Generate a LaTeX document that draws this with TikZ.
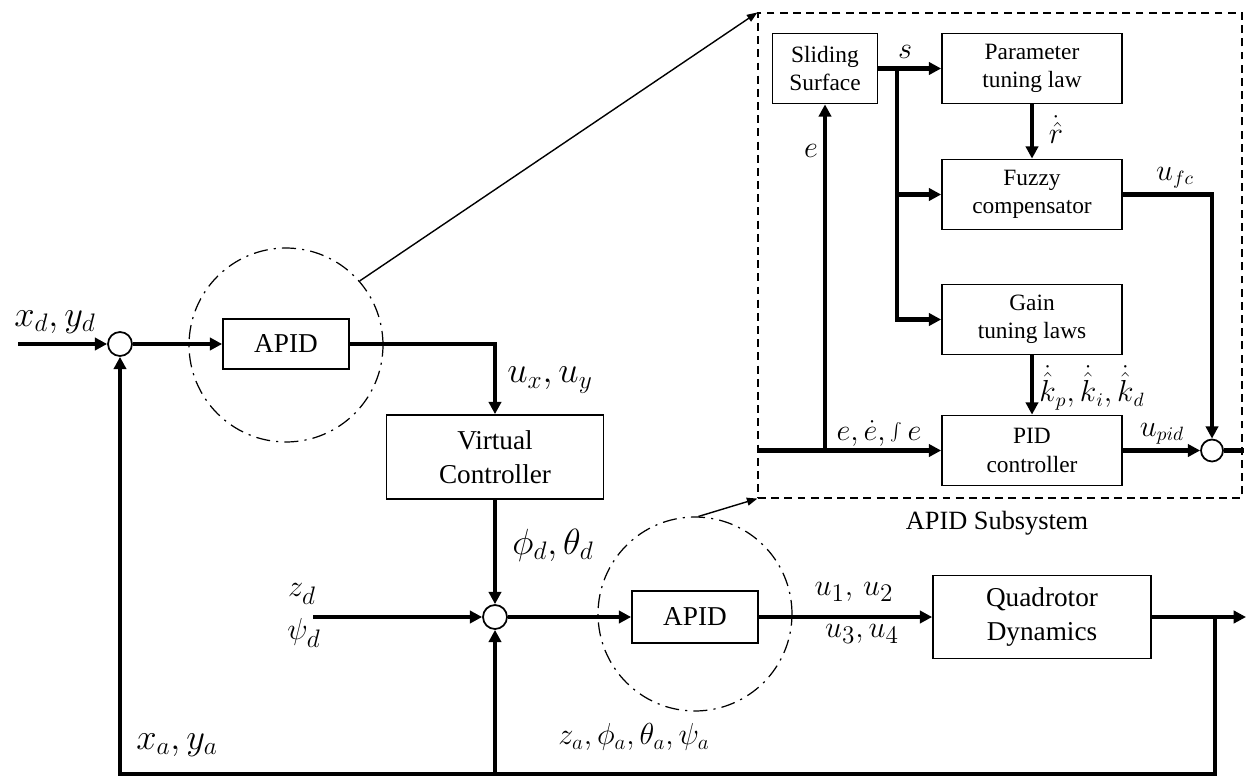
\documentclass[tikz,border=0pt]{standalone}
\usepackage{fontspec}
\setmainfont{Liberation Serif}
\usetikzlibrary{arrows.meta}
\begin{document}
\begin{tikzpicture}[x=0.02cm,y=-0.02cm,
    sig/.style={line width=2.4pt,-{Triangle[length=7pt,width=7pt]}},
    wire/.style={line width=2.4pt},
    thinarr/.style={line width=0.8pt,-{Triangle[length=6pt,width=4.5pt]}},
    blk/.style={draw,line width=1pt,align=center,font=\fontsize{15.5}{19}\selectfont},
    sblk/.style={draw,line width=1pt,align=center,minimum width=3.6cm,minimum height=1.4cm,font=\fontsize{13.3}{16}\selectfont},
    sumj/.style={draw,circle,line width=1pt,fill=white,minimum size=0.48cm,inner sep=0pt},
    zoomc/.style={draw,circle,line width=0.7pt,dash pattern=on 8pt off 3.5pt on 1.2pt off 3.5pt,minimum size=3.88cm},
    lbl/.style={font=\fontsize{21}{25}\selectfont},
    mlbl/.style={font=\fontsize{19}{23}\selectfont},
    slbl/.style={font=\fontsize{16}{19}\selectfont}]
  \useasboundingbox (0,0) rectangle (1247,777);
  \node[draw,line width=0.7pt,dash pattern=on 4.5pt off 3pt,minimum width=9.68cm,minimum height=9.7cm] (sub) at (1000,255.5) {};
  \node[zoomc] (ell1) at (286,345) {};
  \node[zoomc] (ell2) at (695,614) {};
  \node[sumj] (sum1) at (120,344) {};
  \node[sumj] (sum2) at (495,617) {};
  \node[blk,minimum width=2.52cm,minimum height=1cm] (apid1) at (286,344) {APID};
  \node[blk,minimum width=4.34cm,minimum height=1.68cm] (vc) at (495,457) {Virtual\\Controller};
  \node[blk,minimum width=2.52cm,minimum height=1.04cm] (apid2) at (695,617) {APID};
  \node[blk,minimum width=4.36cm,minimum height=1.66cm] (quad) at (1042,617) {Quadrotor\\Dynamics};
  \coordinate (in1) at (18,344);
  \coordinate (in2) at (313,617);
  \coordinate (tap) at (1215,617);
  \coordinate (out) at (1246,617);
  \coordinate (fb) at (120,774);
  \coordinate (fb2) at (495,774);
  \draw[sig] (in1) -- (sum1);
  \draw[sig] (sum1) -- (apid1);
  \draw[sig] (apid1) -| (vc);
  \draw[sig] (vc) -- (sum2);
  \draw[sig] (in2) -- (sum2);
  \draw[sig] (sum2) -- (apid2);
  \draw[sig] (apid2) -- (quad);
  \draw[sig] (quad) -- (out);
  \draw[sig] (tap) |- (fb) -- (sum1);
  \draw[sig] (fb2) -- (sum2);
  \draw[thinarr] (ell1.41) -- (sub.north west);
  \draw[thinarr] (ell2.88) -- (sub.south west);
  \node[lbl] (xdyd) at (55,322) {$x_d,y_d$};
  \node[lbl] (uxuy) at (550,380) {$u_x,u_y$};
  \node[lbl] (phth) at (553,545) {$\phi_d,\theta_d$};
  \node[mlbl] (zd) at (302,594) {$z_d$};
  \node[mlbl] (psid) at (304,633) {$\psi_d$};
  \node[mlbl] (u12) at (854,592) {$u_1,\,u_2$};
  \node[mlbl] (u34) at (862,634) {$u_3,u_4$};
  \node[font=\fontsize{18}{22}\selectfont] (zaetc) at (634,737) {$z_a,\phi_a,\theta_a,\psi_a$};
  \node[lbl] (xaya) at (177,745) {$x_a,y_a$};
  \node[font=\fontsize{15}{18}\selectfont] (subname) at (997,523) {APID Subsystem};
  \node[sblk,minimum width=2.1cm] (slide) at (825,68.5) {Sliding\\Surface};
  \node[sblk] (param) at (1032,68.5) {Parameter\\tuning law};
  \node[sblk] (fuzzy) at (1032,194.5) {Fuzzy\\compensator};
  \node[sblk] (gain) at (1032,319.5) {Gain\\tuning laws};
  \node[sblk] (pid) at (1032,450.5) {PID\\controller};
  \node[sumj,minimum size=0.44cm] (ssum) at (1212,450.5) {};
  \coordinate (sj) at (897,68.5);
  \coordinate (sin) at (757,450.5);
  \coordinate (ej) at (825,450.5);
  \coordinate (sout) at (1244,450.5);
  \draw[sig] (slide) -- (param);
  \draw[sig] (sj) |- (gain);
  \draw[sig] (sj |- fuzzy) -- (fuzzy);
  \draw[sig] (param) -- (fuzzy);
  \draw[sig] (gain) -- (pid);
  \draw[sig] (fuzzy) -| (ssum);
  \draw[sig] (pid) -- (ssum);
  \draw[wire] (ssum) -- (sout);
  \draw[sig] (sin) -- (pid);
  \draw[sig] (ej) -- (slide);
  \node[slbl] (slab) at (905,52) {$s$};
  \node[slbl] (elab) at (811,151) {$e$};
  \node[slbl] (rlab) at (1056,130) {$\dot{\hat{r}}$};
  \node[slbl] (ufc) at (1175,178) {$u_{fc}$};
  \node[slbl] (klab) at (1092,388) {$\dot{\hat{k}}_p,\dot{\hat{k}}_i,\dot{\hat{k}}_d$};
  \node[slbl] (eint) at (879,433) {$e,\dot{e},\int e$};
  \node[slbl] (upid) at (1162,434) {$u_{pid}$};
\end{tikzpicture}
\end{document}
